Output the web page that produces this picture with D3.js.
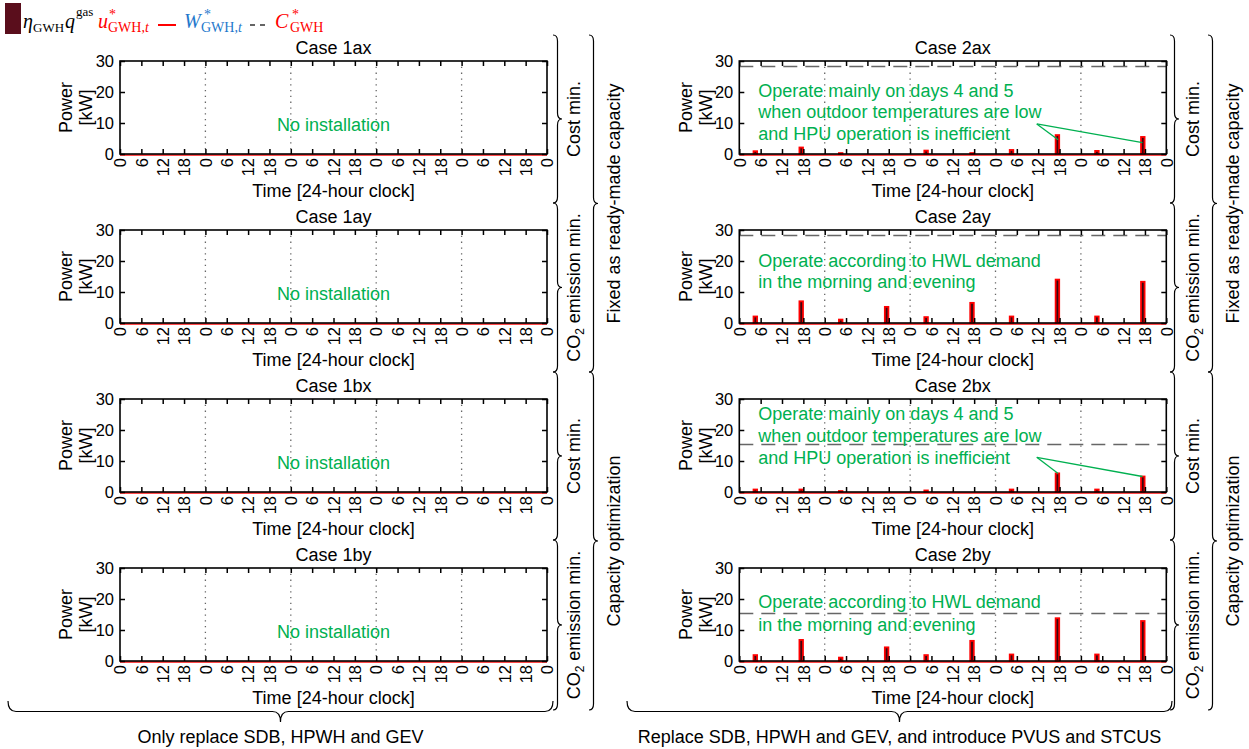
<!DOCTYPE html>
<html><head><meta charset="utf-8">
<script src="https://cdn.jsdelivr.net/npm/d3@7"></script>
<style>body{margin:0;background:#fff} svg{display:block} text{font-family:"Liberation Sans",Arial,sans-serif}</style>
</head><body><svg id="c" width="1249" height="749"></svg>
<script>
// ---------------- data ----------------
const caseNames = ["Case 1ax","Case 1ay","Case 1bx","Case 1by","Case 2ax","Case 2ay","Case 2bx","Case 2by"];
const hourTicks = [0,6,12,18];            // tick labels within a day
const yTickValues = [0,10,20,30];
const nDays = 5;
const barHours = [4.5, 17.4];             // morning / evening operation hour of each day
// [day1 morning, day1 evening, day2 morning, ...] in kW
const u2ax = [0.9,2.1, 0.3,0.0, 1.1,0.3, 1.3,6.1, 1.0,5.5];
const u2ay = [2.1,7.0, 1.1,5.2, 1.9,6.5, 2.1,14.0, 2.1,13.3];
const u2bx = [0.8,0.8, 0.3,0.0, 0.5,0.0, 0.8,6.0, 0.8,5.0];
const u2by = [1.9,6.8, 1.1,4.4, 1.9,6.5, 2.1,13.8, 2.1,12.9];
const capacity = [null,null,null,null, 28.2, 28.2, 15.3, 15.3];
const noteX = ["Operate mainly on days 4 and 5","when outdoor temperatures are low","and HPU operation is inefficient"];
const noteY = ["Operate according to HWL demand","in the morning and evening"];
// arrow lines [start hour, start kW, end hour, end kW]
const arrows2ax = [[83.6,9.7,89.6,4.6],[83.6,9.7,113.3,3.7]];
const arrows2bx = [[83.6,11.2,89.6,6.0],[83.6,11.2,113.3,5.0]];
const innerLabels = ["Cost min.","CO2 emission min.","Cost min.","CO2 emission min."];
const outerLabels = ["Fixed as ready-made capacity","Capacity optimization"];
const bottomLabels = ["Only replace SDB, HPWH and GEV","Replace SDB, HPWH and GEV, and introduce PVUS and STCUS"];

// ---------------- layout ----------------
const svg = d3.select("#c");
const colX = [120, 739.3], plotW = 427;
const rowY = [61, 230, 399, 568], plotH = 93;
const RED = "#ff0000", GREEN = "#00b050", BLUE = "#1f78cc", DARK = "#3a0810", MAROON = "#5a0e1c";
const uSeries = [null,null,null,null,u2ax,u2ay,u2bx,u2by];
const notes = [null,null,null,null,
  {lines:noteX, base:35.5, step:21.5, arrows:arrows2ax},
  {lines:noteY, base:36.5, step:21.5},
  {lines:noteX, base:20.5, step:22, arrows:arrows2bx},
  {lines:noteY, base:40, step:22.5}];

caseNames.forEach((name,i)=>{
  const col = i<4?0:1, row = i%4;
  const x0 = colX[col], y0 = rowY[row];
  const x = d3.scaleLinear().domain([0, nDays*24]).range([x0, x0+plotW]);
  const y = d3.scaleLinear().domain([0, 30]).range([y0+plotH, y0]);
  const g = svg.append("g");
  const allTicks = d3.range(0, nDays*24+1, 6);

  // day separators
  g.selectAll(".sep").data(d3.range(1,nDays).map(d=>d*24)).join("line")
    .attr("x1",d=>x(d)).attr("x2",d=>x(d)).attr("y1",y(30)).attr("y2",y(0))
    .attr("stroke","#666").attr("stroke-width",1.3).attr("stroke-dasharray","1.3,4.5");

  // capacity dashed
  if (capacity[i] != null) {
    g.append("line").attr("x1",x(0)).attr("x2",x(nDays*24)).attr("y1",y(capacity[i])).attr("y2",y(capacity[i]))
      .attr("stroke","#666").attr("stroke-width",1.5).attr("stroke-dasharray","14,8");
  }
  // W* zero line
  g.append("line").attr("x1",x(0)).attr("x2",x(nDays*24)).attr("y1",y(0)+1).attr("y2",y(0)+1)
    .attr("stroke",RED).attr("stroke-width",2).attr("opacity",0.7);

  // bars
  const u = uSeries[i];
  if (u) {
    const bars = u.map((v,k)=>({t: Math.floor(k/2)*24 + barHours[k%2], v})).filter(d=>d.v>0);
    g.selectAll(".bar").data(bars).join("rect")
      .attr("x",d=>x(d.t-0.5)).attr("width",d=>x(d.t+0.5)-x(d.t-0.5))
      .attr("y",d=>y(d.v)).attr("height",d=>y(0)-y(d.v))
      .attr("fill",DARK).attr("stroke",RED).attr("stroke-width",1.8);
  }

  // axes
  const fmt = d=>String(d%24);
  const ax = g.append("g").attr("transform",`translate(0,${y(0)})`)
    .call(d3.axisBottom(x).tickValues(allTicks).tickSize(-5).tickSizeOuter(0).tickPadding(0).tickFormat(fmt));
  ax.selectAll("text").attr("transform","rotate(-90)").attr("x",-4).attr("y",0).attr("dy","0.35em")
    .style("text-anchor","end");
  g.append("g").attr("transform",`translate(0,${y(30)})`)
    .call(d3.axisTop(x).tickValues(allTicks).tickSize(-5).tickSizeOuter(0).tickFormat(""));
  g.append("g").attr("transform",`translate(${x(0)},0)`)
    .call(d3.axisLeft(y).tickValues(yTickValues).tickSize(-5).tickSizeOuter(0).tickPadding(6));
  g.append("g").attr("transform",`translate(${x(nDays*24)},0)`)
    .call(d3.axisRight(y).tickValues(yTickValues).tickSize(-5).tickSizeOuter(0).tickFormat(""));
  g.selectAll(".domain").remove();
  g.selectAll(".tick line").attr("stroke","#000").attr("stroke-width",1.5);
  g.selectAll(".tick text").attr("font-family",null).style("font-size","16.5px").attr("fill","#000");
  g.append("rect").attr("x",x(0)).attr("y",y(30)).attr("width",x(nDays*24)-x(0)).attr("height",y(0)-y(30))
    .attr("fill","none").attr("stroke","#000").attr("stroke-width",1.6);

  // annotations
  const n = notes[i];
  if (n) {
    if (n.arrows) n.arrows.forEach(a=>{
      g.append("line").attr("x1",x(a[0])).attr("y1",y(a[1])).attr("x2",x(a[2])).attr("y2",y(a[3]))
        .attr("stroke",GREEN).attr("stroke-width",1.3);
    });
    n.lines.forEach((t,k)=>{
      g.append("text").attr("x",x0+19).attr("y",y0+n.base+k*n.step).text(t)
        .style("font-size","18px").attr("fill",GREEN);
    });
  } else {
    g.append("text").attr("x",x0+plotW/2).attr("y",y0+70).attr("text-anchor","middle")
      .text("No installation").style("font-size","18px").attr("fill",GREEN);
  }
  // titles
  g.append("text").attr("x",x0+plotW/2).attr("y",y0-7.5).attr("text-anchor","middle").text(name).style("font-size","18px");
  g.append("text").attr("x",x0+plotW/2).attr("y",y0+plotH+43).attr("text-anchor","middle").text("Time [24-hour clock]").style("font-size","18px");
  const yc = y0+plotH/2;
  g.append("text").attr("transform",`translate(${x0-54},${yc}) rotate(-90)`).attr("text-anchor","middle").attr("dy","0.35em").text("Power").style("font-size","18px");
  g.append("text").attr("transform",`translate(${x0-34},${yc}) rotate(-90)`).attr("text-anchor","middle").attr("dy","0.35em").text("[kW]").style("font-size","18px");
});

// ---------------- braces ----------------
function vBrace(x, y1, y2, w){
  const m=(y1+y2)/2, q=w/2, r=6;
  return `M${x},${y1} Q${x+q},${y1} ${x+q},${y1+r} L${x+q},${m-r} Q${x+q},${m} ${x+w},${m} Q${x+q},${m} ${x+q},${m+r} L${x+q},${y2-r} Q${x+q},${y2} ${x},${y2}`;
}
function hBrace(x1, x2, y, h){
  const m=(x1+x2)/2, q=h/2, r=8;
  return `M${x1},${y} Q${x1},${y+q} ${x1+r},${y+q} L${m-r},${y+q} Q${m},${y+q} ${m},${y+h} Q${m},${y+q} ${m+r},${y+q} L${x2-r},${y+q} Q${x2},${y+q} ${x2},${y}`;
}
const innerSpans = [[35,203],[203,372],[372,540],[540,710]];
const outerSpans = [[35,372],[372,710]];
const groups = [{bIn:553, tIn:574, bOut:589, tOut:614},{bIn:1170, tIn:1193, bOut:1208, tOut:1233}];
function rotLabel(xc, yc, label){
  const t = svg.append("text").attr("transform",`translate(${xc},${yc}) rotate(-90)`)
    .attr("text-anchor","middle").attr("dy","0.35em").style("font-size","18px");
  if (label.startsWith("CO2")) {
    t.append("tspan").text("CO");
    t.append("tspan").text("2").style("font-size","12px").attr("dy","4");
    t.append("tspan").text(label.slice(3)).attr("dy","-4");
  } else t.text(label);
}
groups.forEach(gp=>{
  innerSpans.forEach((s,k)=>{
    svg.append("path").attr("d",vBrace(gp.bIn,s[0],s[1],9)).attr("fill","none").attr("stroke","#000").attr("stroke-width",1.2);
    rotLabel(gp.tIn,(s[0]+s[1])/2,innerLabels[k]);
  });
  outerSpans.forEach((s,k)=>{
    svg.append("path").attr("d",vBrace(gp.bOut,s[0],s[1],9)).attr("fill","none").attr("stroke","#000").attr("stroke-width",1.2);
    rotLabel(gp.tOut,(s[0]+s[1])/2,outerLabels[k]);
  });
});
const bottomSpans = [[8,553],[627,1172]];
bottomSpans.forEach((s,k)=>{
  svg.append("path").attr("d",hBrace(s[0],s[1],701,21)).attr("fill","none").attr("stroke","#000").attr("stroke-width",1.2);
  svg.append("text").attr("x",(s[0]+s[1])/2).attr("y",743).attr("text-anchor","middle").text(bottomLabels[k]).style("font-size","18px");
});

// ---------------- legend ----------------
const LF = '"Liberation Serif","DejaVu Serif",serif';
const lg = svg.append("g");
lg.append("rect").attr("x",5).attr("y",3).attr("width",16).attr("height",31).attr("fill",MAROON);
function lt(x, y, s, size, color, italic){
  return lg.append("text").attr("x",x).attr("y",y).text(s).style("font-family",LF).style("font-size",size+"px")
    .style("font-style",italic?"italic":"normal").attr("fill",color);
}
function sub(x, y, color){ // "GWH,t"
  const t = lg.append("text").attr("x",x).attr("y",y).style("font-family",LF).style("font-size","14px").attr("fill",color);
  t.append("tspan").text("GWH,");
  t.append("tspan").text("t").style("font-style","italic");
}
lt(23,28,"η",20,"#000",true); lt(33,32,"GWH",13,"#000",false);
lt(65,28,"q",20,"#000",true); lt(76,16,"gas",13,"#000",false);
lt(98,28,"u",20,RED,true); lt(109,19,"*",14,RED,false); sub(108,32,RED);
lg.append("line").attr("x1",158).attr("x2",176).attr("y1",25).attr("y2",25).attr("stroke",RED).attr("stroke-width",2);
lt(184,28,"W",20,BLUE,true); lt(204,19,"*",14,BLUE,false); sub(201,32,BLUE);
lg.append("line").attr("x1",250).attr("x2",265).attr("y1",25).attr("y2",25).attr("stroke","#333").attr("stroke-width",1.5).attr("stroke-dasharray","5,5");
lt(275,28,"C",20,RED,true); lt(292,19,"*",14,RED,false); lt(290,32,"GWH",14,RED,false);
</script></body></html>
